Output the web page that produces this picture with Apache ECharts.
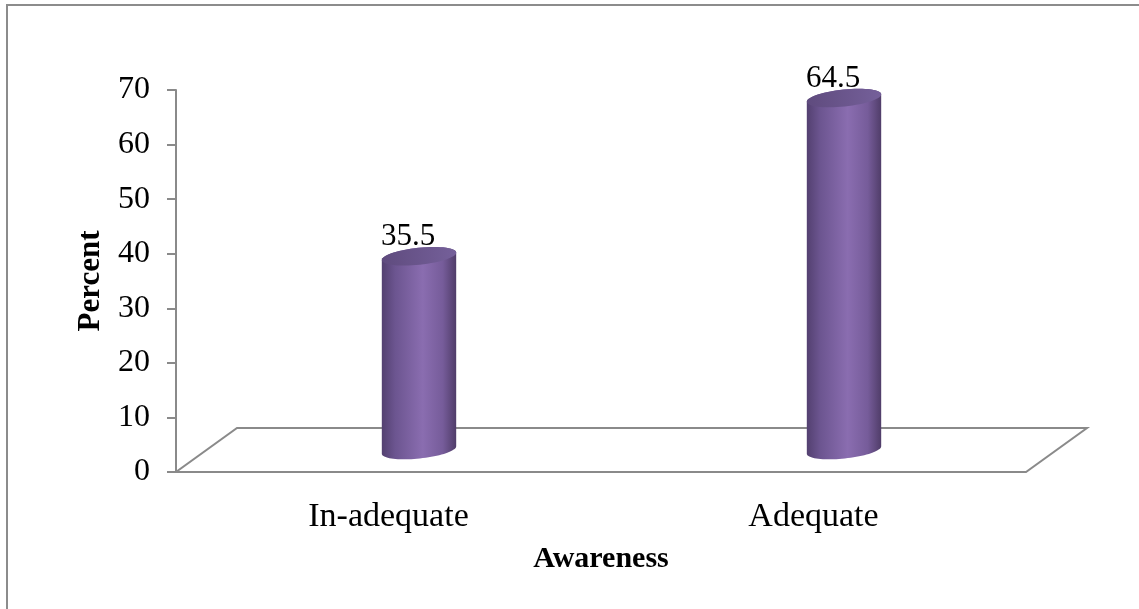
<!DOCTYPE html>
<html>
<head>
<meta charset="utf-8">
<style>
  html, body { margin: 0; padding: 0; background: #ffffff; }
  #chart { width: 1139px; height: 609px; }
</style>
<script src="https://cdn.jsdelivr.net/npm/echarts@6/dist/echarts.min.js"></script>
</head>
<body>
<div id="chart"></div>
<script>
// Awareness levels and their share in percent
const categories = ['In-adequate', 'Adequate'];
const percentValues = [35.5, 64.5];
const yTicks = [0, 10, 20, 30, 40, 50, 60, 70];

const SERIF = '"Liberation Serif", "Times New Roman", serif';
const GRID = { left: 176, top: 90, right: 113, bottom: 137 };
// Depth of the 3D floor (in px): back edge offset from the front edge
const DEPTH_X = 61, DEPTH_Y = -44;

const chart = echarts.init(document.getElementById('chart'), null, { renderer: 'canvas' });

// Point on a rotated ellipse
function ellipsePt(cx, cy, rx, ry, rot, t) {
  const c = Math.cos(t), s = Math.sin(t);
  return [
    cx + rx * c * Math.cos(rot) - ry * s * Math.sin(rot),
    cy + rx * c * Math.sin(rot) + ry * s * Math.cos(rot)
  ];
}

function ellipsePoints(cx, cy, rx, ry, rot, t0, t1, n) {
  const pts = [];
  for (let i = 0; i <= n; i++) {
    pts.push(ellipsePt(cx, cy, rx, ry, rot, t0 + (t1 - t0) * i / n));
  }
  return pts;
}

const bodyFill = new echarts.graphic.LinearGradient(0, 0, 1, 0, [
  { offset: 0, color: '#534070' },
  { offset: 0.18, color: '#6c5590' },
  { offset: 0.55, color: '#8a6db0' },
  { offset: 0.82, color: '#765c9a' },
  { offset: 1, color: '#503d69' }
]);
const capFill = new echarts.graphic.LinearGradient(0, 0, 1, 0, [
  { offset: 0, color: '#5f4b7e' },
  { offset: 1, color: '#75609a' }
]);

function renderCylinder(params, api) {
  const idx = api.value(0);
  const val = api.value(1);
  const top = api.coord([idx, val]);
  const base = api.coord([idx, 0]);
  const bandW = api.size([1, 0])[0];
  const rx = bandW * 0.088;
  const ry = 8.5;
  const rot = -6 * Math.PI / 180;
  const cx = top[0] + DEPTH_X / 2;
  const cyTop = top[1] + DEPTH_Y / 2;
  const cyBot = base[1] + DEPTH_Y / 2;

  // Side of the cylinder: front arc of the base + back arc of the top
  const body = ellipsePoints(cx, cyBot, rx, ry, rot, Math.PI, 0, 40)
    .concat(ellipsePoints(cx, cyTop, rx, ry, rot, 0, -Math.PI, 40));
  const cap = ellipsePoints(cx, cyTop, rx, ry, rot, 0, 2 * Math.PI, 60);

  return {
    type: 'group',
    children: [
      {
        type: 'text',
        style: {
          text: String(val),
          x: cx - 11,
          y: cyTop - ry + 5,
          align: 'center',
          verticalAlign: 'bottom',
          font: '31px ' + SERIF,
          fill: '#000000'
        }
      },
      { type: 'polygon', shape: { points: body }, style: { fill: bodyFill } },
      { type: 'polygon', shape: { points: cap }, style: { fill: capFill } }
    ]
  };
}

// Floor of the 3D plot area, drawn from the grid rectangle
function renderFloor(params, api) {
  const cs = params.coordSys;
  const x0 = cs.x, x1 = cs.x + cs.width, y = cs.y + cs.height;
  return {
    type: 'polygon',
    shape: {
      points: [[x0, y], [x1, y], [x1 + DEPTH_X, y + DEPTH_Y], [x0 + DEPTH_X, y + DEPTH_Y]]
    },
    style: { fill: '#ffffff', stroke: '#8a8a8a', lineWidth: 2 }
  };
}

chart.setOption({
  animation: false,
  backgroundColor: '#ffffff',
  graphic: [
    {
      type: 'rect',
      shape: { x: 7, y: 5, width: 1300, height: 800 },
      style: { fill: 'none', stroke: '#8c8c8c', lineWidth: 2 },
      silent: true,
      z: -10
    }
  ],
  grid: { left: GRID.left, top: GRID.top, right: GRID.right, bottom: GRID.bottom, containLabel: false },
  xAxis: {
    type: 'category',
    data: categories,
    axisLine: { show: false },
    axisTick: { show: false },
    axisLabel: { margin: 28, fontFamily: SERIF, fontSize: 34, color: '#000000' },
    name: 'Awareness',
    nameLocation: 'middle',
    nameGap: 72,
    nameTextStyle: { fontFamily: SERIF, fontSize: 30, fontWeight: 'bold', color: '#000000' }
  },
  yAxis: {
    type: 'value',
    min: yTicks[0],
    max: yTicks[yTicks.length - 1],
    interval: yTicks[1] - yTicks[0],
    splitLine: { show: false },
    axisLine: { show: true, lineStyle: { color: '#8a8a8a', width: 2 } },
    axisTick: { show: true, inside: false, length: 9, lineStyle: { color: '#8a8a8a', width: 2 } },
    axisLabel: { margin: 26, fontFamily: SERIF, fontSize: 32, color: '#000000' },
    name: 'Percent',
    nameLocation: 'middle',
    nameRotate: 90,
    nameGap: 70,
    nameTextStyle: { fontFamily: SERIF, fontSize: 31, fontWeight: 'bold', color: '#000000' }
  },
  series: [
    {
      type: 'custom',
      name: 'floor',
      renderItem: renderFloor,
      data: [[0, 0]],
      z: 1,
      silent: true
    },
    {
      type: 'custom',
      name: 'Percent',
      renderItem: renderCylinder,
      encode: { x: 0, y: 1 },
      data: categories.map((c, i) => [i, percentValues[i]]),
      z: 2
    }
  ]
});
</script>
</body>
</html>
